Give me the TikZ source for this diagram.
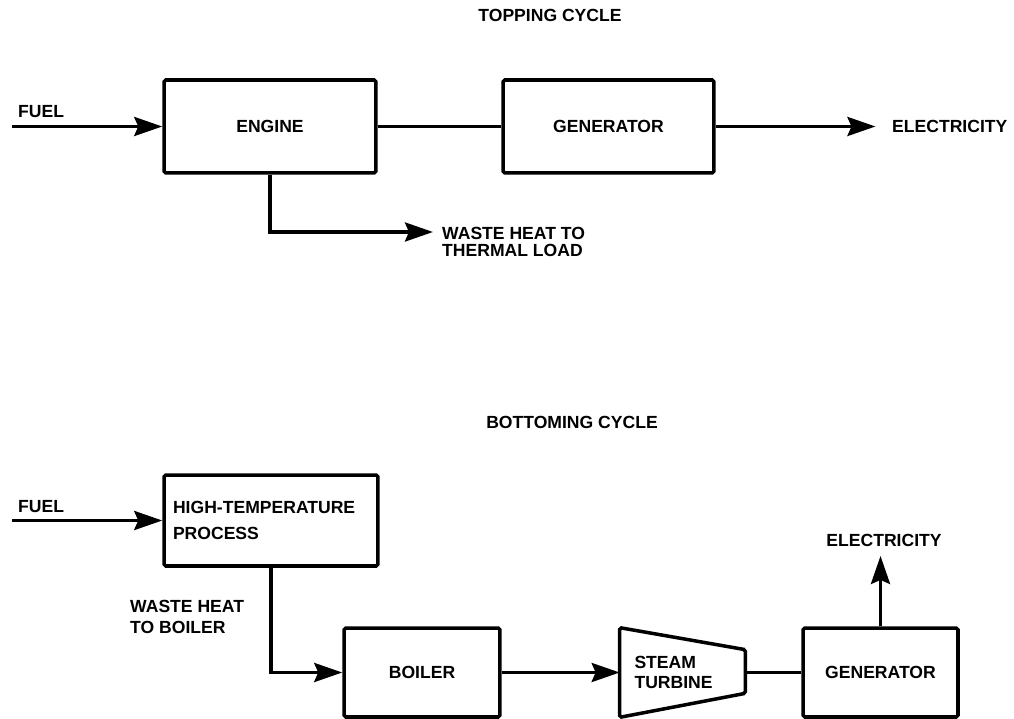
\documentclass[tikz,border=0pt]{standalone}
\usepackage{fontspec}
\setmainfont{Liberation Sans}
\usetikzlibrary{arrows.meta,positioning,calc}

\newcommand{\labelfont}{\fontsize{10}{11.5}\selectfont\bfseries}

\begin{document}
\begin{tikzpicture}[
    x=0.02cm, y=-0.02cm,
    block/.style={rectangle, draw, line width=2pt, rounded corners=1pt, font=\labelfont},
    flow/.style={-{Stealth[length=5.6mm, width=3.8mm, inset=0.8mm]}, line width=2pt},
    link/.style={line width=2pt},
    label/.style={font=\labelfont, align=left},
    title/.style={font=\labelfont}
]
\useasboundingbox (0,0) rectangle (1014,719);

% === TOPPING CYCLE ===
\node[title] (toptitle) at (550,15) {TOPPING CYCLE};

\node[block, minimum width=4.24cm, minimum height=1.86cm] (engine) at (270,126.5) {ENGINE};
\node[block, minimum width=4.22cm, minimum height=1.86cm] (gen1) at (608.5,126.5) {GENERATOR};

\coordinate (fuel1) at (12,126.5);
\node[label, anchor=base west] (fuel1lbl) at (12,118) {FUEL};
\draw[flow] (fuel1) -- (engine.west);

\draw[link] (engine) -- (gen1);

\node[label, anchor=west] (elec1lbl) at (886,126.5) {ELECTRICITY};
\draw[flow, shorten >=6pt] (gen1.east) -- (elec1lbl.west);

% waste heat branch
\coordinate (waste1) at (433,232);
\draw[flow] (engine.south) |- (waste1);
\node[label, anchor=north west] (waste1lbl) at (436,221) {WASTE HEAT TO\\[-2pt]THERMAL LOAD};

% === BOTTOMING CYCLE ===
\node[title] (bottitle) at (572,422) {BOTTOMING CYCLE};

\node[block, minimum width=4.28cm, minimum height=1.82cm, text width=3.92cm, align=left] (htp) at (271,520.5) {HIGH-TEMPERATURE\\[3pt]PROCESS};

\coordinate (fuel2) at (12,520.5);
\node[label, anchor=base west] (fuel2lbl) at (12,512) {FUEL};
\draw[flow] (fuel2) -- (htp.west);

\node[block, minimum width=3.12cm, minimum height=1.78cm] (boiler) at (422,672.5) {BOILER};
\draw[flow] (htp.south) |- (boiler.west);
\node[label, anchor=west] (waste2lbl) at (124,617) {WASTE HEAT\\TO BOILER};

% steam turbine drawn as a trapezoid round an empty frame
\node[minimum width=2.5cm, minimum height=1.78cm, text width=1.92cm, align=left, font=\labelfont] (turb) at (682.5,672.5) {STEAM\\TURBINE};
\draw[link, rounded corners=1pt] (turb.north west) -- ($(turb.north east)+(0,22)$)
    -- ($(turb.south east)+(0,-24)$) -- (turb.south west) -- cycle;
\draw[flow] (boiler) -- (turb.west);

\node[block, minimum width=3.1cm, minimum height=1.78cm] (gen2) at (880.5,672.5) {GENERATOR};
\draw[link] (turb.east) -- (gen2.west);

\node[label] (elec2lbl) at (884,540) {ELECTRICITY};
\draw[flow, shorten >=2pt] (gen2.north) -- (elec2lbl.south -| gen2.north);

\end{tikzpicture}
\end{document}
